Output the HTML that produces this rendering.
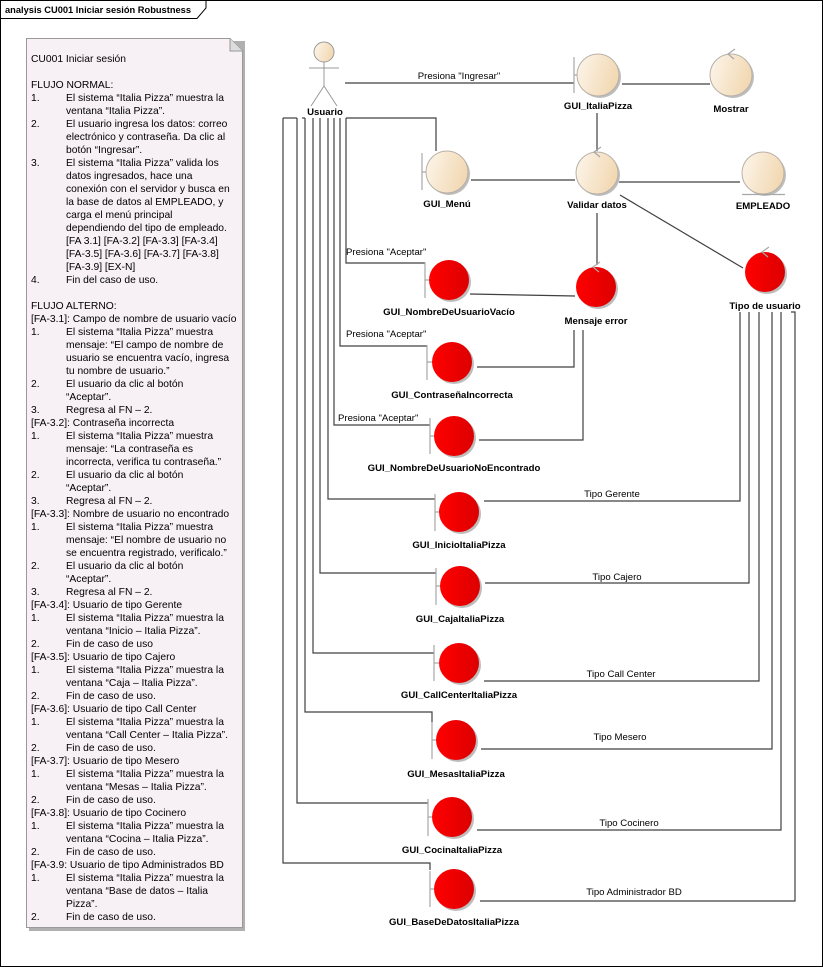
<!DOCTYPE html>
<html><head><meta charset="utf-8"><style>
html,body{margin:0;padding:0;background:#fff;}
svg{display:block;}
.n{font-family:"Liberation Sans",sans-serif;font-size:10.3px;fill:#000;}
.b{font-family:"Liberation Sans",sans-serif;font-size:9.6px;font-weight:bold;fill:#000;text-anchor:middle;}
.c{font-family:"Liberation Sans",sans-serif;font-size:9.6px;fill:#000;}
</style></head><body>
<svg width="823" height="967" viewBox="0 0 823 967" xmlns="http://www.w3.org/2000/svg">
<defs>
<linearGradient id="beige" x1="0" y1="0" x2="1" y2="0.3"><stop offset="0" stop-color="#fdf6ec"/><stop offset="1" stop-color="#f2d9b4"/></linearGradient>
<linearGradient id="red" x1="0" y1="0" x2="1" y2="0"><stop offset="0" stop-color="#ff0000"/><stop offset="1" stop-color="#dc0000"/></linearGradient>
</defs>
<rect x="0.5" y="0.5" width="822" height="966" fill="#fff" stroke="#000"/>
<path d="M0.5 18.5 H197 L206 8 V0.5" fill="none" stroke="#000"/>
<text x="5" y="13" font-family="Liberation Sans,sans-serif" font-size="9.3" font-weight="bold">analysis CU001 Iniciar sesión Robustness</text>

<!-- note -->
<rect x="29" y="41" width="216" height="890" fill="#b0b0b0"/>
<path d="M26.5 38.5 H230 L242.5 51 V927.5 H26.5 Z" fill="#f7f0f4" stroke="#999"/>
<path d="M230 38.5 V51 H242.5" fill="#ddd" stroke="#999"/>
<g class="n">
<text x="31" y="62">CU001 Iniciar sesión</text>
<text x="31" y="88">FLUJO NORMAL:</text>
<text x="31" y="101">1.</text><text x="66" y="101">El sistema “Italia Pizza” muestra la</text>
<text x="66" y="114">ventana “Italia Pizza”.</text>
<text x="31" y="127">2.</text><text x="66" y="127">El usuario ingresa los datos: correo</text>
<text x="66" y="140">electrónico y contraseña.  Da clic al</text>
<text x="66" y="153">botón “Ingresar”.</text>
<text x="31" y="166">3.</text><text x="66" y="166">El sistema “Italia Pizza” valida los</text>
<text x="66" y="179">datos ingresados, hace una</text>
<text x="66" y="192">conexión con el servidor y busca en</text>
<text x="66" y="205">la base de datos al EMPLEADO, y</text>
<text x="66" y="218">carga el menú principal</text>
<text x="66" y="231">dependiendo del tipo de empleado.</text>
<text x="66" y="244">[FA 3.1] [FA-3.2] [FA-3.3] [FA-3.4]</text>
<text x="66" y="257">[FA-3.5] [FA-3.6] [FA-3.7] [FA-3.8]</text>
<text x="66" y="270">[FA-3.9] [EX-N]</text>
<text x="31" y="283">4.</text><text x="66" y="283">Fin del caso de uso.</text>
<text x="31" y="309">FLUJO ALTERNO:</text>
<text x="31" y="322">[FA-3.1]: Campo de nombre de usuario vacío</text>
<text x="31" y="335">1.</text><text x="66" y="335">El sistema “Italia Pizza” muestra</text>
<text x="66" y="348">mensaje: “El campo de nombre de</text>
<text x="66" y="361">usuario se encuentra vacío, ingresa</text>
<text x="66" y="374">tu nombre de usuario.”</text>
<text x="31" y="387">2.</text><text x="66" y="387">El usuario da clic al botón</text>
<text x="66" y="400">“Aceptar”.</text>
<text x="31" y="413">3.</text><text x="66" y="413">Regresa al FN – 2.</text>
<text x="31" y="426">[FA-3.2]: Contraseña incorrecta</text>
<text x="31" y="439">1.</text><text x="66" y="439">El sistema “Italia Pizza” muestra</text>
<text x="66" y="452">mensaje: “La contraseña es</text>
<text x="66" y="465">incorrecta, verifica tu contraseña.”</text>
<text x="31" y="478">2.</text><text x="66" y="478">El usuario da clic al botón</text>
<text x="66" y="491">“Aceptar”.</text>
<text x="31" y="504">3.</text><text x="66" y="504">Regresa al FN – 2.</text>
<text x="31" y="517">[FA-3.3]: Nombre de usuario no encontrado</text>
<text x="31" y="530">1.</text><text x="66" y="530">El sistema “Italia Pizza” muestra</text>
<text x="66" y="543">mensaje: “El nombre de usuario no</text>
<text x="66" y="556">se encuentra registrado, verificalo.”</text>
<text x="31" y="569">2.</text><text x="66" y="569">El usuario da clic al botón</text>
<text x="66" y="582">“Aceptar”.</text>
<text x="31" y="595">3.</text><text x="66" y="595">Regresa al FN – 2.</text>
<text x="31" y="608">[FA-3.4]: Usuario de tipo Gerente</text>
<text x="31" y="621">1.</text><text x="66" y="621">El sistema “Italia Pizza” muestra la</text>
<text x="66" y="634">ventana “Inicio – Italia Pizza”.</text>
<text x="31" y="647">2.</text><text x="66" y="647">Fin de caso de uso</text>
<text x="31" y="660">[FA-3.5]: Usuario de tipo Cajero</text>
<text x="31" y="673">1.</text><text x="66" y="673">El sistema “Italia Pizza” muestra la</text>
<text x="66" y="686">ventana “Caja – Italia Pizza”.</text>
<text x="31" y="699">2.</text><text x="66" y="699">Fin de caso de uso.</text>
<text x="31" y="712">[FA-3.6]: Usuario de tipo Call Center</text>
<text x="31" y="725">1.</text><text x="66" y="725">El sistema “Italia Pizza” muestra la</text>
<text x="66" y="738">ventana “Call Center – Italia Pizza”.</text>
<text x="31" y="751">2.</text><text x="66" y="751">Fin de caso de uso.</text>
<text x="31" y="764">[FA-3.7]: Usuario de tipo Mesero</text>
<text x="31" y="777">1.</text><text x="66" y="777">El sistema “Italia Pizza” muestra la</text>
<text x="66" y="790">ventana “Mesas – Italia Pizza”.</text>
<text x="31" y="803">2.</text><text x="66" y="803">Fin de caso de uso.</text>
<text x="31" y="816">[FA-3.8]: Usuario de tipo Cocinero</text>
<text x="31" y="829">1.</text><text x="66" y="829">El sistema “Italia Pizza” muestra la</text>
<text x="66" y="842">ventana “Cocina – Italia Pizza”.</text>
<text x="31" y="855">2.</text><text x="66" y="855">Fin de caso de uso.</text>
<text x="31" y="868">[FA-3.9: Usuario de tipo Administrados BD</text>
<text x="31" y="881">1.</text><text x="66" y="881">El sistema “Italia Pizza” muestra la</text>
<text x="66" y="894">ventana “Base de datos – Italia</text>
<text x="66" y="907">Pizza”.</text>
<text x="31" y="920">2.</text><text x="66" y="920">Fin de caso de uso.</text>
</g>

<!-- connectors -->
<g fill="none" stroke="#404040" stroke-width="1.2">
<path d="M345 83 H574"/>
<path d="M622 84 H710"/>
<path d="M597 113 V151"/>
<path d="M346 118 H436 V151"/>
<path d="M471 180 H575"/>
<path d="M619 182 H740"/>
<path d="M620 195 L743 268"/>
<path d="M597 213 V265"/>
<path d="M346 118 V263 H425"/>
<path d="M470 294 L575 296"/>
<path d="M574 330 V367 H477"/>
<path d="M583 330 V440 H479"/>
<path d="M340 118 V346 H427"/>
<path d="M334 118 V425 H430"/>
<path d="M328 118 V499 H435"/>
<path d="M320 118 V573 H436"/>
<path d="M313 118 V653 H434"/>
<path d="M305 118 V712 H432 V722"/>
<path d="M297 118 V803 H428"/>
<path d="M283 118 V863 H430 V870"/>
<path d="M297 118 H283"/>
<path d="M740 312 V501 H484"/>
<path d="M749 312 V583 H485"/>
<path d="M759 312 V681 H484"/>
<path d="M772 312 V749 H481"/>
<path d="M781 312 V830 H477"/>
<path d="M791 312 H795 V901 H480"/>
<path d="M305 118 H302"/>
</g>

<!-- connector labels -->
<g class="c">
<text x="459" y="79" text-anchor="middle">Presiona "Ingresar"</text>
<text x="346" y="255">Presiona "Aceptar"</text>
<text x="346" y="337">Presiona "Aceptar"</text>
<text x="338" y="421">Presiona "Aceptar"</text>
<text x="612" y="497" text-anchor="middle">Tipo Gerente</text>
<text x="617" y="580" text-anchor="middle">Tipo Cajero</text>
<text x="621" y="677" text-anchor="middle">Tipo Call Center</text>
<text x="620" y="740" text-anchor="middle">Tipo Mesero</text>
<text x="629" y="826" text-anchor="middle">Tipo Cocinero</text>
<text x="634" y="895" text-anchor="middle">Tipo Administrador BD</text>
</g>

<!-- actor -->
<g stroke="#9a9a9a" stroke-width="1" fill="none">
<circle cx="324" cy="52" r="10" fill="url(#beige)"/>
<path d="M324 62 V86 M309 68 H339 M324 86 L311 106 M324 86 L337 106"/>
</g>
<text class="b" x="325" y="115">Usuario</text>

<!-- beige nodes -->
<g stroke="#b8b0a8" stroke-width="1">
<circle cx="600" cy="77" r="21" fill="#bdbdbd" stroke="none"/>
<circle cx="598" cy="75" r="21" fill="url(#beige)"/>
<circle cx="733" cy="77" r="21" fill="#bdbdbd" stroke="none"/>
<circle cx="731" cy="75" r="21" fill="url(#beige)"/>
<circle cx="449" cy="174" r="21" fill="#bdbdbd" stroke="none"/>
<circle cx="447" cy="172" r="21" fill="url(#beige)"/>
<circle cx="599" cy="175" r="21" fill="#bdbdbd" stroke="none"/>
<circle cx="597" cy="173" r="21" fill="url(#beige)"/>
<circle cx="765" cy="175" r="21" fill="#bdbdbd" stroke="none"/>
<circle cx="763" cy="173" r="21" fill="url(#beige)"/>
</g>
<!-- red nodes -->
<g>
<circle cx="451" cy="282" r="20" fill="#bdbdbd"/><circle cx="449" cy="280" r="20" fill="url(#red)"/>
<circle cx="598" cy="289" r="20" fill="#bdbdbd"/><circle cx="596" cy="287" r="20" fill="url(#red)"/>
<circle cx="767" cy="274" r="20" fill="#bdbdbd"/><circle cx="765" cy="272" r="20" fill="url(#red)"/>
<circle cx="454" cy="364" r="20" fill="#bdbdbd"/><circle cx="452" cy="362" r="20" fill="url(#red)"/>
<circle cx="456" cy="438" r="20" fill="#bdbdbd"/><circle cx="454" cy="436" r="20" fill="url(#red)"/>
<circle cx="461" cy="514" r="20" fill="#bdbdbd"/><circle cx="459" cy="512" r="20" fill="url(#red)"/>
<circle cx="462" cy="588" r="20" fill="#bdbdbd"/><circle cx="460" cy="586" r="20" fill="url(#red)"/>
<circle cx="461" cy="665" r="20" fill="#bdbdbd"/><circle cx="459" cy="663" r="20" fill="url(#red)"/>
<circle cx="458" cy="742" r="20" fill="#bdbdbd"/><circle cx="456" cy="740" r="20" fill="url(#red)"/>
<circle cx="454" cy="819" r="20" fill="#bdbdbd"/><circle cx="452" cy="817" r="20" fill="url(#red)"/>
<circle cx="456" cy="891" r="20" fill="#bdbdbd"/><circle cx="454" cy="889" r="20" fill="url(#red)"/>
</g>
<!-- boundary bars, control chevrons, entity underline -->
<g stroke="#a8a8a8" stroke-width="1.2" fill="none">
<path d="M574 57 V93 M574 75 H577"/>
<path d="M422 153 V190 M422 172 H426"/>
<path d="M425 262 V298 M425 280 H429"/>
<path d="M427 345 V380 M427 362 H432"/>
<path d="M430 418 V454 M430 436 H434"/>
<path d="M435 494 V531 M435 512 H439"/>
<path d="M436 568 V605 M436 586 H440"/>
<path d="M434 645 V681 M434 663 H439"/>
<path d="M432 722 V759 M432 740 H436"/>
<path d="M428 799 V836 M428 817 H432"/>
<path d="M430 871 V907 M430 889 H434"/>
<path d="M742 194.5 H785"/>
<path d="M735 49 L728 54 L734 59"/>
<path d="M601 147 L594 152 L600 157"/>
<path d="M600 262 L593 267 L599 272"/>
<path d="M769 247 L762 252 L768 257"/>
</g>

<!-- node labels -->
<g class="b">
<text x="598" y="109">GUI_ItaliaPizza</text>
<text x="731" y="112">Mostrar</text>
<text x="447" y="207">GUI_Menú</text>
<text x="597" y="208">Validar datos</text>
<text x="763" y="209">EMPLEADO</text>
<text x="449" y="315">GUI_NombreDeUsuarioVacío</text>
<text x="596" y="324">Mensaje error</text>
<text x="765" y="309">Tipo de usuario</text>
<text x="452" y="398">GUI_ContraseñaIncorrecta</text>
<text x="454" y="471">GUI_NombreDeUsuarioNoEncontrado</text>
<text x="459" y="548">GUI_InicioItaliaPizza</text>
<text x="460" y="622">GUI_CajaItaliaPizza</text>
<text x="459" y="698">GUI_CallCenterItaliaPizza</text>
<text x="456" y="777">GUI_MesasItaliaPizza</text>
<text x="452" y="853">GUI_CocinaItaliaPizza</text>
<text x="454" y="925">GUI_BaseDeDatosItaliaPizza</text>
</g>
</svg>
</body></html>
